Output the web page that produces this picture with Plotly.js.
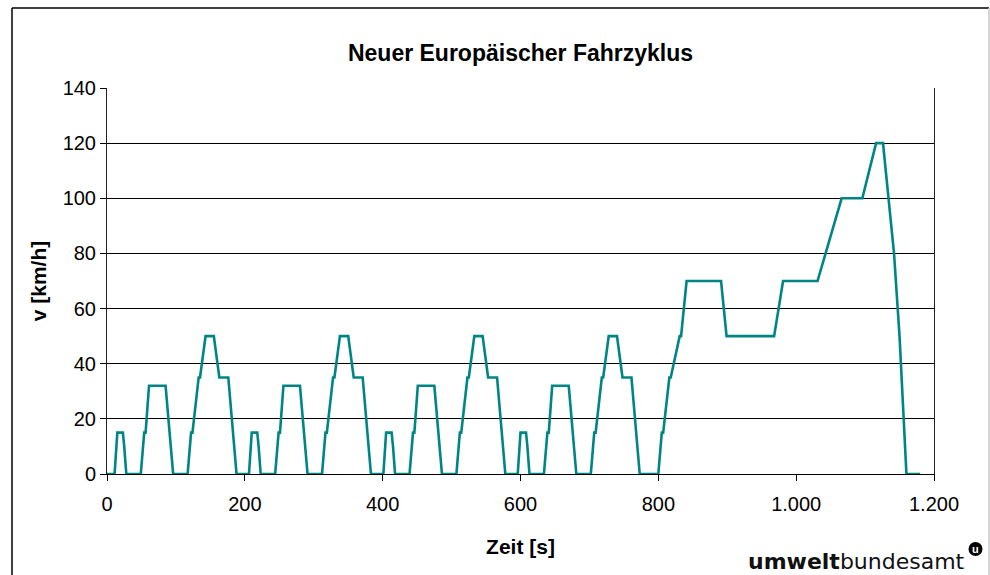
<!DOCTYPE html>
<html>
<head>
<meta charset="utf-8">
<script src="https://cdn.plot.ly/plotly-3.0.1.min.js"></script>
<style>
	html, body { margin: 0; padding: 0; background: #fff; }
	#chart { width: 990px; height: 575px; }
</style>
</head>
<body>
<div id="chart"></div>
<script>
(function () {

	'use strict';

	// NEFZ: 4x Stadtzyklus (ECE-15) + Außerortszyklus (EUDC), Eckpunkte in s
	const ece1Time = [0, 11, 15, 23, 25, 28, 49, 54, 56, 61, 85, 93, 96, 117, 122, 124, 133, 135, 143, 155, 163, 176, 185, 188];
	const ece2Time = [195, 206, 210, 218, 220, 223, 244, 249, 251, 256, 280, 288, 291, 312, 317, 319, 328, 330, 338, 350, 358, 371, 380, 383];
	const ece3Time = [390, 401, 405, 413, 415, 418, 439, 444, 446, 451, 475, 483, 486, 507, 512, 514, 523, 525, 533, 545, 553, 566, 575, 578];
	const ece4Time = [585, 596, 600, 608, 610, 613, 634, 639, 641, 646, 670, 678, 681, 702, 707, 709, 718, 720, 728, 740, 748, 761, 770, 773];
	const eceSpeed = [0, 0, 15, 15, 10, 0, 0, 15, 15, 32, 32, 10, 0, 0, 15, 15, 35, 35, 50, 50, 35, 35, 10, 0];

	const eudcTime = [780, 800, 805, 807, 816, 818, 831, 833, 841, 891, 899, 968, 981, 1031, 1066, 1096, 1116, 1126, 1142, 1150, 1160, 1180];
	const eudcSpeed = [0, 0, 15, 15, 35, 35, 50, 50, 70, 70, 50, 50, 70, 70, 100, 100, 120, 120, 80, 50, 0, 0];

	const xTicks = [0, 200, 400, 600, 800, 1000, 1200];
	const yTicks = [0, 20, 40, 60, 80, 100, 120, 140];

	const timeS = [].concat(ece1Time, ece2Time, ece3Time, ece4Time, eudcTime);
	const speedKmh = [].concat(eceSpeed, eceSpeed, eceSpeed, eceSpeed, eudcSpeed);

	const data = [{
		x: timeS,
		y: speedKmh,
		type: 'scatter',
		mode: 'lines',
		line: { color: '#008585', width: 2.6 },
		hovertemplate: '%{y} km/h<br>%{x} s<extra></extra>'
	}];

	const font = 'Liberation Sans, Arial, sans-serif';

	const layout = {
		width: 990,
		height: 575,
		margin: { l: 107, r: 56, t: 88, b: 101 },
		paper_bgcolor: '#fff',
		plot_bgcolor: '#fff',
		separators: ',.',
		showlegend: false,
		font: { family: font, size: 20, color: '#000' },
		title: {
			text: '<b>Neuer Europäischer Fahrzyklus</b>',
			font: { family: font, size: 23, color: '#000' },
			xref: 'paper', x: 0.5, xanchor: 'center',
			yref: 'container', y: 1 - 53 / 575, yanchor: 'middle'
		},
		xaxis: {
			range: [0, 1200],
			tickvals: xTicks,
			separatethousands: true,
			showgrid: false,
			zeroline: false,
			showline: true, linecolor: '#000', linewidth: 1,
			ticks: 'outside', ticklen: 6, tickcolor: '#000',
			ticklabelstandoff: 6,
			tickfont: { size: 20 },
			title: { text: '<b>Zeit [s]</b>', standoff: 25, font: { size: 21 } }
		},
		yaxis: {
			range: [0, 140],
			tickvals: yTicks,
			showgrid: true, gridcolor: '#000', gridwidth: 1,
			zeroline: false,
			showline: true, mirror: true, linecolor: '#222', linewidth: 1,
			ticks: 'outside', ticklen: 6, tickcolor: '#000',
			tickfont: { size: 20 },
			title: { text: '<b>v [km/h]</b>', standoff: 10, font: { size: 21 } }
		},
		shapes: [
			// äußerer Rahmen
			{ type: 'line', xref: 'paper', yref: 'paper', x0: -95 / 827, x1: 882 / 827, y0: 466 / 386, y1: 466 / 386, line: { color: '#000', width: 1.5 } },
			{ type: 'line', xref: 'paper', yref: 'paper', x0: -95 / 827, x1: -95 / 827, y0: 466 / 386, y1: -110 / 386, line: { color: '#000', width: 1.5 } },
			{ type: 'line', xref: 'paper', yref: 'paper', x0: 882 / 827, x1: 882 / 827, y0: 466 / 386, y1: -110 / 386, line: { color: '#c8c8c8', width: 1.5 } },
			// Logo-Punkt
			{ type: 'circle', xref: 'paper', yref: 'paper', x0: 861.5 / 827, x1: 875.5 / 827, y0: -68 / 386, y1: -82 / 386, fillcolor: '#000', line: { width: 0 } }
		],
		annotations: [
			{
				text: '<b>umwelt</b>bundesamt',
				xref: 'paper', yref: 'paper',
				x: 860 / 827, xanchor: 'right',
				y: -87 / 386, yanchor: 'middle',
				showarrow: false,
				font: { family: 'DejaVu Sans, sans-serif', size: 22, color: '#111' }
			},
			{
				text: '<b>u</b>',
				xref: 'paper', yref: 'paper',
				x: 868.5 / 827, xanchor: 'center',
				y: -75 / 386, yanchor: 'middle',
				showarrow: false,
				font: { family: font, size: 11, color: '#fff' }
			}
		]
	};

	Plotly.newPlot('chart', data, layout, { displayModeBar: false, staticPlot: true });

})();
</script>
</body>
</html>
